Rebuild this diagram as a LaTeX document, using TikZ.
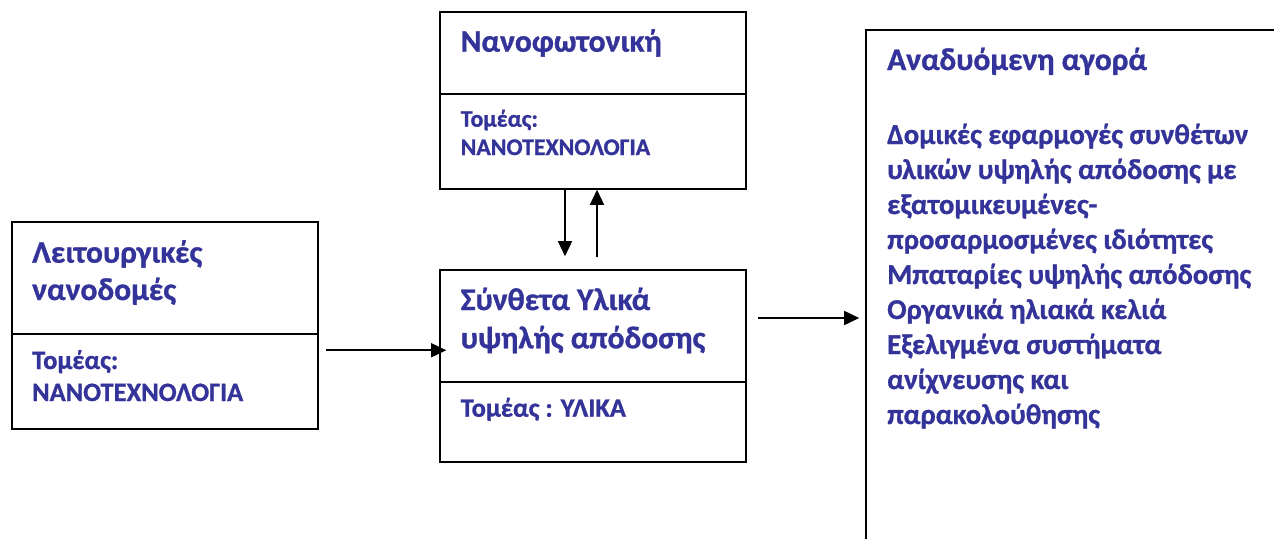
\documentclass[tikz,border=0pt]{standalone}
\usepackage{fontspec}
\setmainfont{Carlito}[BoldFont={Carlito Bold},BoldFeatures={FakeBold=1}]
\usetikzlibrary{arrows.meta,calc}
\definecolor{ink}{HTML}{333399}
\tikzset{
  box/.style={draw=black, line width=1.6pt, inner sep=0pt},
  divider/.style={draw=black, line width=1.6pt},
  arr/.style={draw=black, line width=1.6pt, -{Triangle[length=15pt,width=14pt]}},
  txt/.style={anchor=base west, inner sep=0pt, text=ink},
  big/.style={txt, font=\fontsize{31.5}{36}\selectfont\bfseries},
  mid/.style={txt, font=\fontsize{28.7}{35}\selectfont\bfseries},
  small/.style={txt, font=\fontsize{26.5}{30}\selectfont\bfseries},
  tiny/.style={txt, font=\fontsize{23.8}{28}\selectfont\bfseries},
}
\begin{document}
\begin{tikzpicture}[x=1pt,y=-1pt]
\useasboundingbox (0,0) rectangle (1274,538);
\clip (0,0) rectangle (1274,538);
\fill[white] (0,0) rectangle (1274,538);

% boxes
\node[box, minimum width=306pt, minimum height=207pt] (L) at (165,325.75) {};
\node[box, minimum width=306pt, minimum height=177pt] (T) at (593,100.5) {};
\node[box, minimum width=306pt, minimum height=192pt] (M) at (593,366) {};
\node[box, minimum width=440pt, minimum height=540pt] (R) at (1086,300) {};

% dividers between title and sector
\draw[divider] (L.west |- 0,334) -- (L.east |- 0,334);
\draw[divider] (T.west |- 0,94) -- (T.east |- 0,94);
\draw[divider] (M.west |- 0,382) -- (M.east |- 0,382);

% left box text
\node[big] (l1) at (32,262.7) {Λειτουργικές};
\node[big] (l2) at (32,300) {νανοδομές};
\node[small] (l3) at (32,369) {Τομέας:};
\node[small] (l4) at (32,401) {ΝΑΝΟΤΕΧΝΟΛΟΓΙΑ};

% top box text
\node[big] (t1) at (460.5,51.7) {Νανοφωτονική};
\node[tiny] (t2) at (460.5,126.7) {Τομέας:};
\node[tiny] (t3) at (460.5,155) {ΝΑΝΟΤΕΧΝΟΛΟΓΙΑ};

% middle box text
\node[big] (m1) at (460.5,310) {Σύνθετα Υλικά};
\node[big] (m2) at (460.5,348.3) {υψηλής απόδοσης};
\node[small] (m3) at (460.5,416.7) {Τομέας : ΥΛΙΚΑ};

% right box text
\node[big] (r0) at (887,70) {Αναδυόμενη αγορά};
\foreach \t [count=\i] in {Δομικές εφαρμογές συνθέτων,
    υλικών υψηλής απόδοσης με,
    εξατομικευμένες-,
    προσαρμοσμένες ιδιότητες,
    Μπαταρίες υψηλής απόδοσης,
    Οργανικά ηλιακά κελιά,
    Εξελιγμένα συστήματα,
    ανίχνευσης και,
    παρακολούθησης}
  \node[mid] (r\i) at (887,{109+35*\i}) {\t};

% connectors
\coordinate (a) at ($(L.east)+(7,24.5)$);
\draw[arr] (a) -- ([xshift=7pt]a -| M.west);
\coordinate (b) at ($(T.south)+(-28,0)$);
\draw[arr] (b) -- ([yshift=13pt]b |- M.north);
\coordinate (c) at ($(M.north)+(4,-12)$);
\draw[arr] (c) -- (c |- T.south);
\coordinate (d) at ($(M.east)+(11,-48)$);
\draw[arr] (d) -- ([xshift=-6pt]d -| R.west);
\end{tikzpicture}
\end{document}
